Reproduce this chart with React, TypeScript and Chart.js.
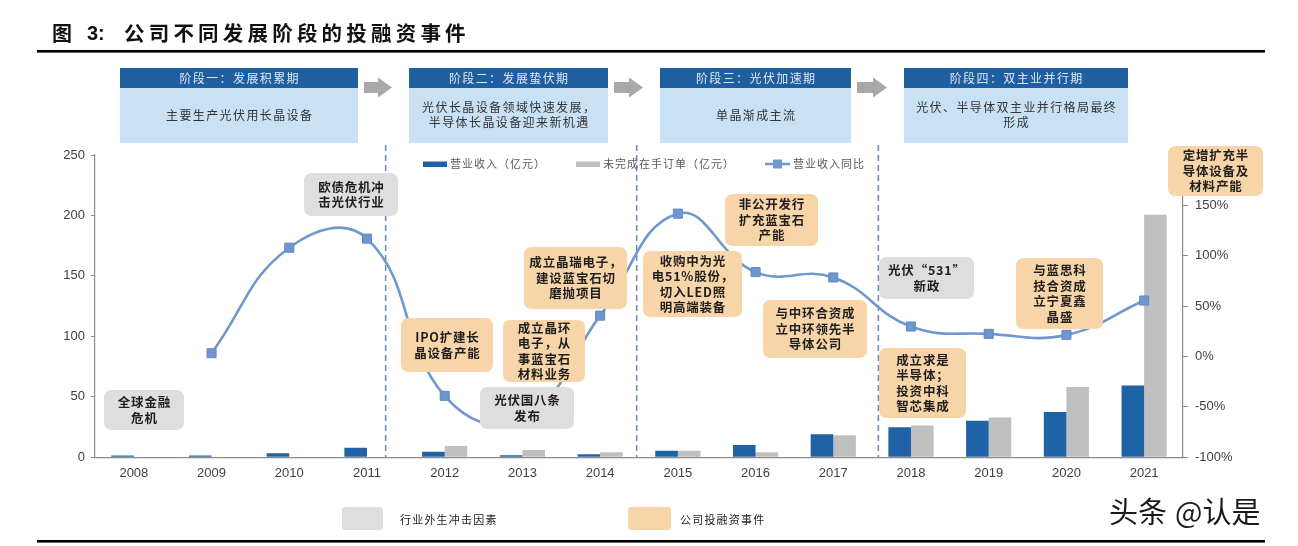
import React, { useEffect, useRef } from "react";
import { Chart, registerables } from "chart.js";

Chart.register(...registerables);

const years = ["2008", "2009", "2010", "2011", "2012", "2013", "2014", "2015", "2016", "2017", "2018", "2019", "2020", "2021"];
const revenue = [1.5, 1.5, 3.3, 8, 4.6, 1.6, 2.5, 5.5, 10.2, 19, 24.8, 30.3, 37.5, 59.3];
const backlog = [null, null, null, null, 9.3, 6, 4.1, 5.5, 4.1, 18.2, 26.2, 33, 58.2, 200.6];
const yoy = [null, 3.3, 108, 117, -39, -63, 40.6, 141.8, 83.8, 78.5, 29.8, 22.5, 21.5, 55.6];

const leftMin = 0;
const leftMax = 250;
const leftStep = 50;
const rightMin = -100;
const rightMax = 200;
const rightStep = 50;

const seriesNames = ["营业收入（亿元）", "未完成在手订单（亿元）", "营业收入同比"];
const titleText = "公司不同发展阶段的投融资事件";

const stages = [
  { head: "阶段一：发展积累期", body: ["主要生产光伏用长晶设备"], x0: 120, x1: 358 },
  { head: "阶段二：发展蛰伏期", body: ["光伏长晶设备领域快速发展，", "半导体长晶设备迎来新机遇"], x0: 409, x1: 608 },
  { head: "阶段三：光伏加速期", body: ["单晶渐成主流"], x0: 660, x1: 851 },
  { head: "阶段四：双主业并行期", body: ["光伏、半导体双主业并行格局最终", "形成"], x0: 904, x1: 1128 },
];

// phase dividers: category index + fraction
const dividers = [3.24, 6.47, 9.58];

const notes = [
  { t: ["全球金融", "危机"], k: "g", x0: 104, y0: 390, x1: 184, y1: 430 },
  { t: ["欧债危机冲", "击光伏行业"], k: "g", x0: 304, y0: 173, x1: 398, y1: 216 },
  { t: ["IPO扩建长", "晶设备产能"], k: "o", x0: 401, y0: 318, x1: 493, y1: 372 },
  { t: ["光伏国八条", "发布"], k: "g", x0: 480, y0: 387, x1: 574, y1: 429 },
  { t: ["成立晶环", "电子，从", "事蓝宝石", "材料业务"], k: "o", x0: 503, y0: 320, x1: 585, y1: 382 },
  { t: ["成立晶瑞电子，", "建设蓝宝石切", "磨抛项目"], k: "o", x0: 524, y0: 247, x1: 627, y1: 309 },
  { t: ["收购中为光", "电51%股份，", "切入LED照", "明高端装备"], k: "o", x0: 643, y0: 251, x1: 742, y1: 317 },
  { t: ["非公开发行", "扩充蓝宝石", "产能"], k: "o", x0: 725, y0: 194, x1: 818, y1: 246 },
  { t: ["与中环合资成", "立中环领先半", "导体公司"], k: "o", x0: 763, y0: 300, x1: 867, y1: 358 },
  { t: ["光伏“531”", "新政"], k: "g", x0: 879, y0: 257, x1: 974, y1: 299 },
  { t: ["成立求是", "半导体；", "投资中科", "智芯集成"], k: "o", x0: 879, y0: 348, x1: 966, y1: 418 },
  { t: ["与蓝思科", "技合资成", "立宁夏鑫", "晶盛"], k: "o", x0: 1016, y0: 258, x1: 1103, y1: 329 },
  { t: ["定增扩充半", "导体设备及", "材料产能"], k: "o", x0: 1168, y0: 146, x1: 1263, y1: 196 },
];

const legendBottom = ["行业外生冲击因素", "公司投融资事件"];

const BLUE = "#1F62A6";
const GRAY = "#BFBFBF";
const LINE = "#7098CF";
const PEACH = "#F8D5A8";
const LGRAY = "#DEDEDE";
const CJK = '"Noto Sans CJK SC", "Noto Sans", sans-serif';
const LAT = '"Liberation Sans", Arial, sans-serif';

function spaced(ctx: CanvasRenderingContext2D, text: string, x: number, y: number, sp: number, align: "center" | "left") {
  const chars = Array.from(text);
  const ws = chars.map((c) => ctx.measureText(c).width);
  const total = ws.reduce((a, b) => a + b, 0) + sp * (chars.length - 1);
  let cx = align === "center" ? x - total / 2 : x;
  ctx.textAlign = "left";
  ctx.textBaseline = "middle";
  chars.forEach((c, i) => {
    ctx.fillText(c, cx, y);
    cx += ws[i] + sp;
  });
}

function rrect(ctx: CanvasRenderingContext2D, x0: number, y0: number, x1: number, y1: number, r: number) {
  ctx.beginPath();
  ctx.moveTo(x0 + r, y0);
  ctx.lineTo(x1 - r, y0);
  ctx.quadraticCurveTo(x1, y0, x1, y0 + r);
  ctx.lineTo(x1, y1 - r);
  ctx.quadraticCurveTo(x1, y1, x1 - r, y1);
  ctx.lineTo(x0 + r, y1);
  ctx.quadraticCurveTo(x0, y1, x0, y1 - r);
  ctx.lineTo(x0, y0 + r);
  ctx.quadraticCurveTo(x0, y0, x0 + r, y0);
  ctx.closePath();
}

const decor = {
  id: "decor",
  beforeDatasetsDraw(chart: any) {
    const ctx: CanvasRenderingContext2D = chart.ctx;
    const xs = chart.scales.x;
    const cw = (xs.right - xs.left) / years.length;
    ctx.save();
    ctx.strokeStyle = "#7083C4";
    ctx.lineWidth = 1.5;
    ctx.setLineDash([6, 4]);
    dividers.forEach((d) => {
      const i = Math.floor(d);
      const x = xs.getPixelForValue(i) + (d - i) * cw;
      ctx.beginPath();
      ctx.moveTo(x, 145);
      ctx.lineTo(x, chart.chartArea.bottom);
      ctx.stroke();
    });
    ctx.restore();
  },
  afterDraw(chart: any) {
    const ctx: CanvasRenderingContext2D = chart.ctx;
    ctx.save();
    // title
    ctx.fillStyle = "#111";
    ctx.font = `bold 20px ${CJK}`;
    spaced(ctx, "图", 52, 33, 0, "left");
    ctx.font = `bold 20px ${LAT}`;
    ctx.textAlign = "left";
    ctx.fillText("3:", 87, 34);
    ctx.font = `bold 20.5px ${CJK}`;
    spaced(ctx, titleText, 124, 33, 4.2, "left");
    // rules
    ctx.fillStyle = "#000";
    ctx.fillRect(37, 50, 1228, 2.6);
    ctx.fillRect(37, 540, 1228, 2.6);

    // stage boxes
    stages.forEach((s, i) => {
      ctx.fillStyle = "#C9E1F5";
      ctx.fillRect(s.x0, 88, s.x1 - s.x0, 55);
      ctx.fillStyle = "#1F5F9F";
      ctx.fillRect(s.x0, 68, s.x1 - s.x0, 20);
      const cx = (s.x0 + s.x1) / 2;
      ctx.fillStyle = "#DDE8F5";
      ctx.font = `12px ${CJK}`;
      spaced(ctx, s.head, cx, 78, 1.4, "center");
      ctx.fillStyle = "#333";
      ctx.font = `12px ${CJK}`;
      if (s.body.length === 1) {
        spaced(ctx, s.body[0], cx, 115, 1.4, "center");
      } else {
        spaced(ctx, s.body[0], cx, 107.5, 1.4, "center");
        spaced(ctx, s.body[1], cx, 122.5, 1.4, "center");
      }
      if (i < stages.length - 1) {
        const ax0 = s.x1 + 6;
        const nx = stages[i + 1].x0;
        const ax1 = nx - 17;
        ctx.fillStyle = "#A8A8A8";
        ctx.beginPath();
        ctx.moveTo(ax0, 82);
        ctx.lineTo(ax1 - 14, 82);
        ctx.lineTo(ax1 - 14, 77.5);
        ctx.lineTo(ax1, 87.5);
        ctx.lineTo(ax1 - 14, 97.5);
        ctx.lineTo(ax1 - 14, 93);
        ctx.lineTo(ax0, 93);
        ctx.closePath();
        ctx.fill();
      }
    });

    // in-chart legend
    ctx.font = `11px ${CJK}`;
    ctx.fillStyle = BLUE;
    ctx.fillRect(423, 161.5, 24, 5.5);
    ctx.fillStyle = "#595959";
    spaced(ctx, seriesNames[0], 450, 164, 1, "left");
    ctx.fillStyle = GRAY;
    ctx.fillRect(576, 161.5, 24, 5.5);
    ctx.fillStyle = "#595959";
    spaced(ctx, seriesNames[1], 603, 164, 1, "left");
    ctx.strokeStyle = LINE;
    ctx.lineWidth = 2.5;
    ctx.beginPath();
    ctx.moveTo(765, 164);
    ctx.lineTo(790, 164);
    ctx.stroke();
    ctx.fillStyle = LINE;
    ctx.fillRect(773, 159.5, 9, 9);
    ctx.fillStyle = "#595959";
    spaced(ctx, seriesNames[2], 793, 164, 1, "left");

    // annotations
    notes.forEach((n) => {
      ctx.fillStyle = n.k === "o" ? PEACH : LGRAY;
      rrect(ctx, n.x0, n.y0, n.x1, n.y1, 8);
      ctx.fill();
      ctx.fillStyle = "#1E1E1E";
      ctx.font = `bold 12.5px ${CJK}`;
      const cx = (n.x0 + n.x1) / 2;
      const cy = (n.y0 + n.y1) / 2;
      const lh = 15.5;
      n.t.forEach((line, j) => {
        const y = cy + (j - (n.t.length - 1) / 2) * lh;
        spaced(ctx, line, cx, y, 0.8, "center");
      });
    });

    // bottom legend
    ctx.fillStyle = LGRAY;
    rrect(ctx, 342, 507, 383, 530, 3);
    ctx.fill();
    ctx.fillStyle = PEACH;
    rrect(ctx, 628, 507, 671, 530, 3);
    ctx.fill();
    ctx.fillStyle = "#222";
    ctx.font = `11px ${CJK}`;
    spaced(ctx, legendBottom[0], 400, 519.5, 1.2, "left");
    spaced(ctx, legendBottom[1], 680, 519.5, 1.2, "left");

    // watermark
    ctx.fillStyle = "#1A1A1A";
    ctx.font = `29px ${CJK}`;
    ctx.textBaseline = "middle";
    ctx.textAlign = "left";
    ctx.fillText("头条", 1109, 512);
    ctx.fillText("@认是", 1175, 512);
    ctx.restore();
  },
};

export default function App() {
  const ref = useRef<HTMLCanvasElement | null>(null);
  useEffect(() => {
    if (!ref.current) return;
    const tickFont = { family: LAT, size: 13 };
    const chart = new Chart(ref.current, {
      type: "bar",
      data: {
        labels: years,
        datasets: [
          {
            type: "line",
            label: seriesNames[2],
            data: yoy,
            yAxisID: "y1",
            borderColor: LINE,
            borderWidth: 2.6,
            backgroundColor: LINE,
            pointStyle: "rect",
            pointRadius: 6.4,
            pointBackgroundColor: "#6F96CE",
            pointBorderColor: "#6387C0",
            pointBorderWidth: 1,
            tension: 0.44,
            spanGaps: false,
            order: 0,
          } as any,
          {
            type: "bar",
            label: seriesNames[0],
            data: revenue,
            yAxisID: "y",
            backgroundColor: BLUE,
            barPercentage: 1,
            categoryPercentage: 0.582,
            order: 1,
          },
          {
            type: "bar",
            label: seriesNames[1],
            data: backlog,
            yAxisID: "y",
            backgroundColor: GRAY,
            barPercentage: 1,
            categoryPercentage: 0.582,
            order: 1,
          },
        ],
      },
      options: {
        responsive: false,
        devicePixelRatio: 1,
        animation: false,
        layout: { padding: { top: 155, left: 0, right: 0, bottom: 0 } },
        plugins: { legend: { display: false }, tooltip: { enabled: false }, title: { display: false } },
        scales: {
          x: {
            offset: true,
            grid: { display: false, drawTicks: false },
            border: { display: true, color: "#8C8C8C", width: 1.2 },
            ticks: { font: tickFont, color: "#404040", padding: 8, maxRotation: 0, autoSkip: false },
            afterFit: (s: any) => {
              s.height = 88.7;
            },
          },
          y: {
            position: "left",
            min: leftMin,
            max: leftMax,
            ticks: { stepSize: leftStep, font: tickFont, color: "#404040", padding: 6 },
            grid: { drawOnChartArea: false, tickLength: 4, color: "#8C8C8C" },
            border: { color: "#8C8C8C", width: 1.2 },
            afterFit: (s: any) => {
              s.width = 95;
            },
          },
          y1: {
            position: "right",
            min: rightMin,
            max: rightMax,
            ticks: {
              stepSize: rightStep,
              font: tickFont,
              color: "#404040",
              padding: 7,
              callback: (v: any) => `${v}%`,
            },
            grid: { drawOnChartArea: false, tickLength: 5, color: "#8C8C8C" },
            border: { color: "#8C8C8C", width: 1.2 },
            afterFit: (s: any) => {
              s.width = 115;
            },
          },
        },
      },
      plugins: [decor],
    } as any);
    return () => chart.destroy();
  }, []);
  return (
    <div style={{ position: "fixed", left: 0, top: 0, width: 1298, height: 546, background: "#fff" }}>
      <canvas ref={ref} width={1298} height={546} style={{ width: 1298, height: 546, display: "block" }} />
    </div>
  );
}
